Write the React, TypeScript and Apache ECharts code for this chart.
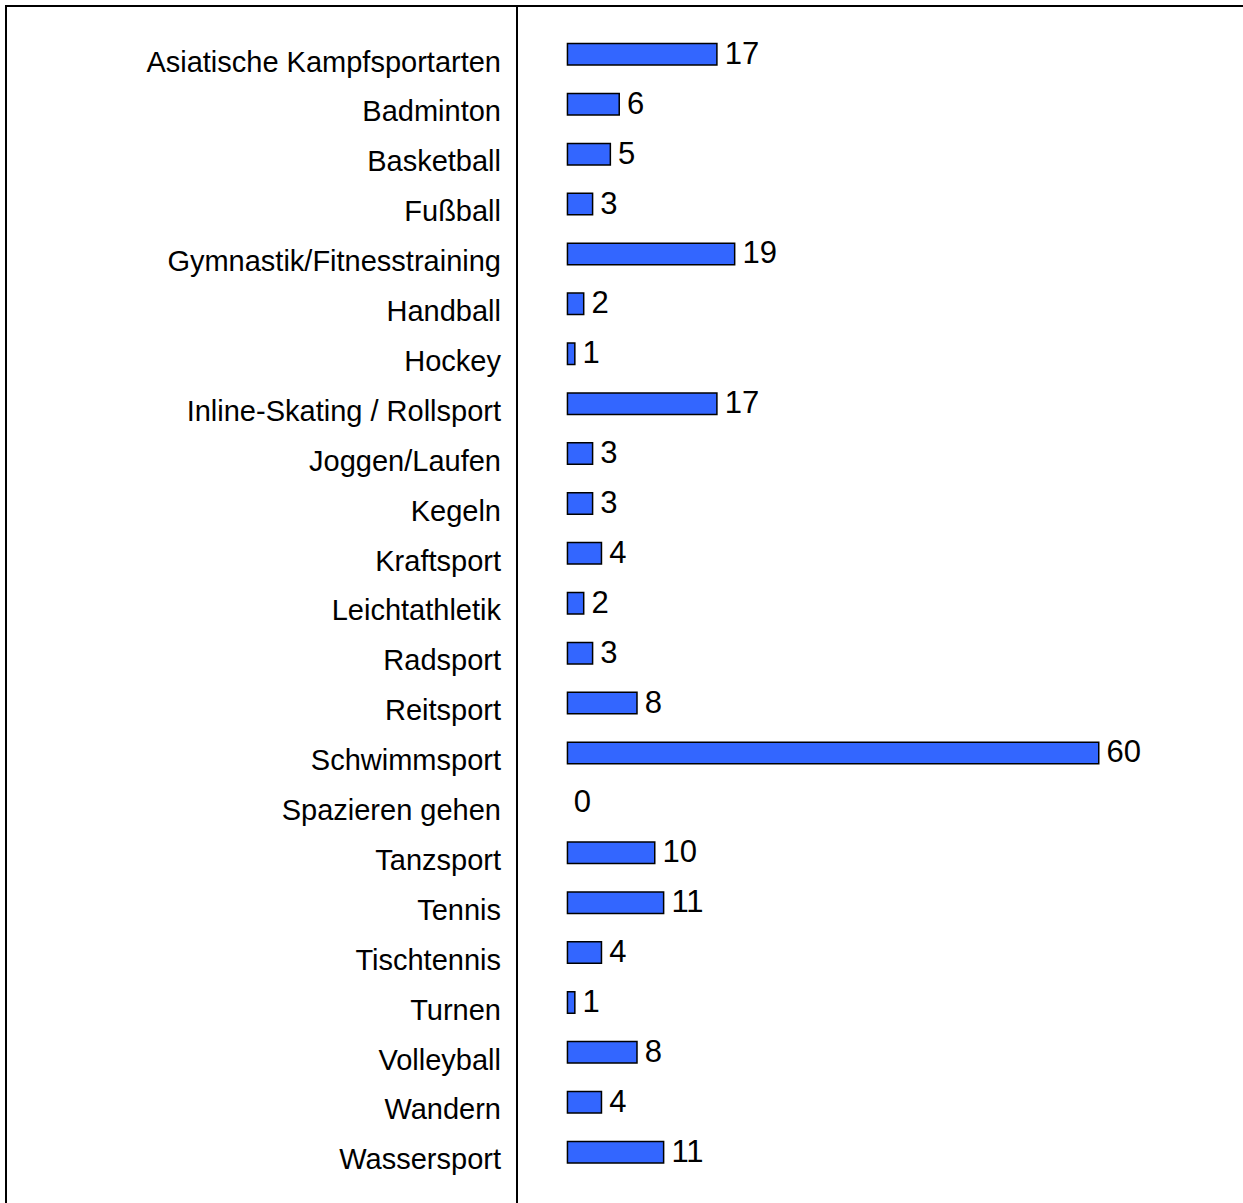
import React, { useEffect, useRef } from "react";
import * as echarts from "echarts";

const categories = [
  "Asiatische Kampfsportarten",
  "Badminton",
  "Basketball",
  "Fußball",
  "Gymnastik/Fitnesstraining",
  "Handball",
  "Hockey",
  "Inline-Skating / Rollsport",
  "Joggen/Laufen",
  "Kegeln",
  "Kraftsport",
  "Leichtathletik",
  "Radsport",
  "Reitsport",
  "Schwimmsport",
  "Spazieren gehen",
  "Tanzsport",
  "Tennis",
  "Tischtennis",
  "Turnen",
  "Volleyball",
  "Wandern",
  "Wassersport",
];

const values = [17, 6, 5, 3, 19, 2, 1, 17, 3, 3, 4, 2, 3, 8, 60, 0, 10, 11, 4, 1, 8, 4, 11];

const FONT = "'Liberation Sans', Arial, Helvetica, sans-serif";

export default function App() {
  const ref = useRef<HTMLDivElement>(null);

  useEffect(() => {
    if (!ref.current) return;
    const chart = echarts.init(ref.current, null, { renderer: "svg" });
    chart.setOption({
      animation: false,
      backgroundColor: "#ffffff",
      grid: [
        { left: 566.7, right: 143.5, top: 29.4, bottom: 25.9, containLabel: false },
        { left: 566.7, right: 143.5, top: 36.6, bottom: 18.7, containLabel: false },
      ],
      xAxis: [
        { type: "value", min: 0, max: 60, show: false, gridIndex: 0 },
        { type: "value", min: 0, max: 60, show: false, gridIndex: 1 },
      ],
      yAxis: [
        {
          type: "category",
          gridIndex: 0,
          data: categories,
          inverse: true,
          axisLine: { show: false },
          axisTick: { show: false },
          splitLine: { show: false },
          axisLabel: { show: false },
        },
        {
          type: "category",
          gridIndex: 1,
          data: categories,
          inverse: true,
          axisLine: { show: false },
          axisTick: { show: false },
          splitLine: { show: false },
          axisLabel: {
            margin: 65.7,
            fontSize: 29,
            fontFamily: FONT,
            color: "#000000",
          },
        },
      ],
      series: [
        {
          type: "bar",
          xAxisIndex: 0,
          yAxisIndex: 0,
          data: values.map((v) => (v === 0 ? { value: v, itemStyle: { borderWidth: 0 } } : v)),
          barWidth: 23,
          itemStyle: { color: "#3366FF", borderColor: "#000000", borderWidth: 1.5 },
          label: {
            show: true,
            position: "right",
            distance: 7,
            fontSize: 31,
            fontFamily: FONT,
            color: "#000000",
            offset: [0, -1],
          },
        },
      ],
      graphic: [
        { type: "line", shape: { x1: 5, y1: 6, x2: 1243, y2: 6 }, style: { stroke: "#000", lineWidth: 2 } },
        { type: "line", shape: { x1: 6, y1: 5, x2: 6, y2: 1203 }, style: { stroke: "#000", lineWidth: 2 } },
        { type: "line", shape: { x1: 517, y1: 6, x2: 517, y2: 1203 }, style: { stroke: "#000", lineWidth: 2 } },
      ],
    });
    return () => chart.dispose();
  }, []);

  return (
    <div
      ref={ref}
      style={{ position: "fixed", left: 0, top: 0, width: 1243, height: 1203, background: "#fff" }}
    />
  );
}
